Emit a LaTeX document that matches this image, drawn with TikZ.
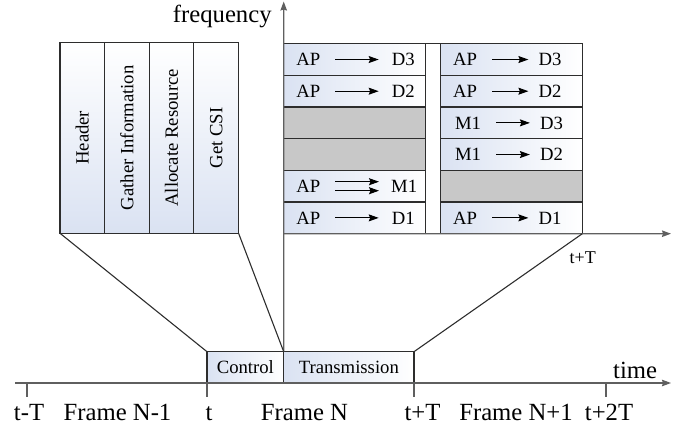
\documentclass[tikz,border=0pt]{standalone}
\usepackage{fontspec}
\setmainfont{Liberation Serif}
\usetikzlibrary{arrows.meta}
\definecolor{cellblue}{RGB}{218,226,242}
\definecolor{cellgray}{RGB}{200,200,200}
\definecolor{linegray}{RGB}{45,45,45}
\definecolor{axisgray}{RGB}{95,95,95}
\newcommand\flowrow[6]{%
  \node[lbl] (#1s) at ([xshift=#4pt]#1.west) {#2};
  \node[lbl] (#1d) at ([xshift=#5pt]#1.west) {#3};
  \draw[arr, shorten <=15pt, shorten >=#6pt] (#1s.east) -- (#1d.west);
}
\begin{document}
\begin{tikzpicture}[x=1pt,y=-1pt,
  cell/.style={draw=linegray, line width=1.1pt, left color=cellblue, right color=white,
    minimum width=142.2pt, minimum height=31.67pt, anchor=north west, inner sep=0pt, outer sep=0pt},
  greycell/.style={draw=linegray, line width=1.1pt, fill=cellgray,
    minimum width=142.2pt, minimum height=31.67pt, anchor=north west, inner sep=0pt, outer sep=0pt},
  vcell/.style={draw=linegray, line width=1.1pt, bottom color=cellblue, top color=white,
    minimum width=44.7pt, minimum height=191pt, anchor=north west, inner sep=0pt, outer sep=0pt,
    font=\fontsize{18.7}{20}\selectfont},
  tbox/.style={draw=linegray, line width=1.1pt, left color=cellblue, right color=white,
    minimum height=31.3pt, anchor=north west, inner sep=0pt, outer sep=0pt,
    font=\fontsize{18.7}{20}\selectfont},
  lbl/.style={font=\fontsize{18.7}{20}\selectfont, inner sep=0pt, text height=12.5pt, text depth=0pt},
  big/.style={font=\fontsize{24.7}{28}\selectfont, inner sep=0pt, anchor=base},
  arr/.style={-{Stealth[length=10pt,width=7pt,inset=1.5pt]}, line width=1pt, black},
  axis/.style={draw=axisgray, line width=1.3pt},
  axarr/.style={-{Stealth[length=9pt,width=6.5pt,inset=1pt]}},
  tick/.style={draw=axisgray, line width=1.2pt},
  conn/.style={draw=linegray, line width=1.1pt}
]
\useasboundingbox (0,0) rectangle (686,430);

% ---------- left control detail panel ----------
\node[vcell] (c1) at (60,42.3) {\rotatebox{90}{Header}};
\node[vcell] (c2) at (104.5,42.3) {\rotatebox{90}{Gather Information}};
\node[vcell] (c3) at (149.2,42.3) {\rotatebox{90}{Allocate Resource}};
\node[vcell] (c4) at (193.9,42.3) {\rotatebox{90}{Get CSI}};

% ---------- time line boxes ----------
\node[tbox, minimum width=76.7pt] (ctrl) at (207,351.7) {Control};
\node[tbox, minimum width=130.3pt] (trans) at (283.7,351.7) {Transmission};

% ---------- left transmission block ----------
\node[cell] (L1) at (283.7,43.7) {};
\node[cell] (L2) at (283.7,75.37) {};
\node[greycell] (L3) at (283.7,107.04) {};
\node[greycell] (L4) at (283.7,138.71) {};
\node[cell] (L5) at (283.7,170.38) {};
\node[cell] (L6) at (283.7,202.05) {};

% ---------- right transmission block ----------
\node[cell, minimum width=142pt] (R1) at (440.3,43.7) {};
\node[cell, minimum width=142pt] (R2) at (440.3,75.37) {};
\node[cell, minimum width=142pt] (R3) at (440.3,107.04) {};
\node[cell, minimum width=142pt] (R4) at (440.3,138.71) {};
\node[greycell, minimum width=142pt] (R5) at (440.3,170.38) {};
\node[cell, minimum width=142pt] (R6) at (440.3,202.05) {};

% top line across the gap
\draw[conn] (L1.north east) -- (R1.north west);

% row labels
\flowrow{L1}{AP}{D3}{24.5}{119.6}{13}
\flowrow{L2}{AP}{D2}{24.5}{119.6}{13}
\flowrow{L6}{AP}{D1}{24.5}{119.6}{13}
\node[lbl] (L5s) at ([xshift=24.5pt]L5.west) {AP};
\node[lbl] (L5d) at ([xshift=120.5pt]L5.west) {M1};
\draw[arr, shorten <=15pt, shorten >=12pt] ([yshift=4.5pt]L5s.east) -- ([yshift=4.5pt]L5d.west);
\draw[arr, shorten <=15pt, shorten >=12pt] ([yshift=-4.5pt]L5s.east) -- ([yshift=-4.5pt]L5d.west);

\flowrow{R1}{AP}{D3}{24.7}{109.7}{10}
\flowrow{R2}{AP}{D2}{24.7}{109.7}{10}
\flowrow{R3}{M1}{D3}{27.7}{111.2}{10}
\flowrow{R4}{M1}{D2}{27.7}{111.2}{10}
\flowrow{R6}{AP}{D1}{24.7}{109.7}{10}

% ---------- axes ----------
\coordinate (ftop) at (283.7,1.5);
\coordinate (hend) at (671,233.7);
\coordinate (tstart) at (15,383);
\coordinate (tend) at (671,383);
\draw[axis, axarr] (ctrl.north east) -- (ftop);
\draw[axis, axarr] (L6.south west) -- (hend);
\draw[axis, axarr] (tstart) -- (tend);

\node[big, anchor=base west] (freq) at (172.7,23) {frequency};
\node[big, anchor=base west] (time) at (613,378.5) {time};
\node[font=\fontsize{18}{20}\selectfont, inner sep=0pt, anchor=base west] (tT) at (569.5,264) {t+T};

% ticks
\coordinate (k1) at (27,383);
\coordinate (k2) at (207,383);
\coordinate (k3) at (414,383);
\coordinate (k4) at (606,383);
\foreach \k in {k1,k2,k3,k4} \draw[tick] (\k) -- ++(0,14.5);

% bottom labels
\node[big] (l1) at (29,420.5) {t-T};
\node[big] (l2) at (117.5,420.5) {Frame N-1};
\node[big] (l3) at (209,420.5) {t};
\node[big] (l4) at (304.5,420.5) {Frame N};
\node[big] (l5) at (422.5,420.5) {t+T};
\node[big] (l6) at (516,420.5) {Frame N+1};
\node[big] (l7) at (609,420.5) {t+2T};

% ---------- zoom connectors ----------
\draw[conn] (c1.south west) -- (ctrl.north west);
\draw[conn] (c4.south east) -- (ctrl.north east);
\draw[conn] (R6.south east) -- (trans.north east);
\end{tikzpicture}
\end{document}
